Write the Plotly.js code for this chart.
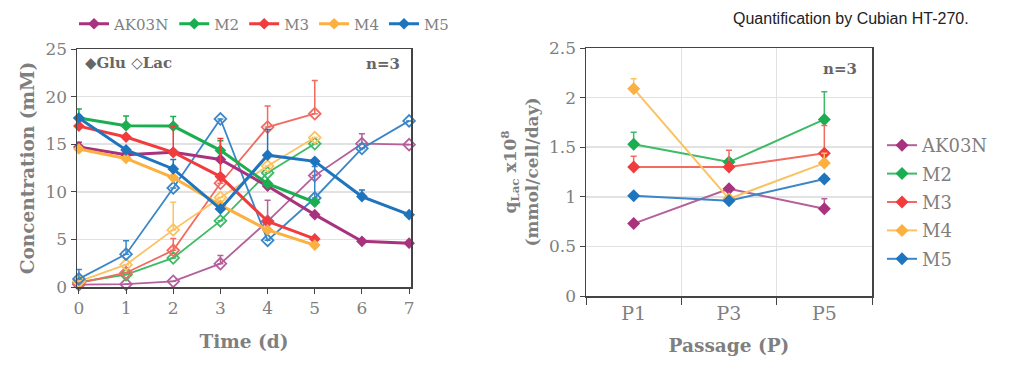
<!DOCTYPE html>
<html>
<head>
<meta charset="utf-8">
<script src="https://cdn.plot.ly/plotly-3.0.1.min.js"></script>
<style>html,body{margin:0;padding:0;background:#fff;}#chart{width:1024px;height:369px;}</style>
</head>
<body>
<div id="chart"></div>
<script>
// ---- data ----
const seriesNames = ["AK03N", "M2", "M3", "M4", "M5"];
const seriesColors = ["#A8327E", "#1AAE50", "#F03C3C", "#FBB040", "#1F74BE"];
const lacColors = ["#B4609A", "#3DBB66", "#F26A60", "#FCC262", "#3A86C8"];

const days = [0, 1, 2, 3, 4, 5, 6, 7];

const gluAK03N = [14.7, 13.9, 14.15, 13.4, 10.6, 7.6, 4.8, 4.6];
const gluM2 = [17.75, 16.95, 16.9, 14.35, 10.85, 8.9];
const gluM3 = [16.9, 15.75, 14.15, 11.6, 6.9, 5.05];
const gluM4 = [14.5, 13.5, 11.5, 8.6, 6.0, 4.4];
const gluM5 = [17.75, 14.4, 12.4, 8.2, 13.85, 13.2, 9.5, 7.6];

const gluErrAK03N = [0.5, 0, 0, 0, 0, 0, 0, 0];
const gluErrM2 = [0.95, 1.0, 1.0, 1.0, 0, 0];
const gluErrM3 = [0, 0, 2.7, 4.0, 0, 0];
const gluErrM4 = [0, 0, 0, 0, 0, 0];
const gluErrM5 = [0, 0, 1.0, 0, 2.7, 0, 0.7, 0];

const lacAK03N = [0.25, 0.3, 0.6, 2.45, 6.9, 11.7, 15.05, 14.95];
const lacM2 = [0.5, 1.3, 3.05, 6.95, 12.0, 15.05];
const lacM3 = [0.4, 1.5, 3.85, 10.9, 16.8, 18.2];
const lacM4 = [0.6, 2.35, 6.0, 9.4, 12.7, 15.7];
const lacM5 = [0.85, 3.45, 10.4, 17.65, 4.9, 9.35, 14.55, 17.45];

const lacErrAK03N = [0, 0, 0, 0.85, 2.2, 0, 1.05, 0];
const lacErrM2 = [0, 0, 0, 0, 0, 0];
const lacErrM3 = [0, 0, 1.25, 0, 2.2, 3.5];
const lacErrM4 = [0, 0, 2.9, 0, 0, 0];
const lacErrM5 = [1.0, 1.4, 0, 0, 0, 3.3, 0, 0];

const passages = ["P1", "P3", "P5"];
const qLacAK03N = [0.73, 1.08, 0.88];
const qLacM2 = [1.53, 1.35, 1.78];
const qLacM3 = [1.30, 1.30, 1.44];
const qLacM4 = [2.09, 0.98, 1.34];
const qLacM5 = [1.01, 0.96, 1.18];

const qErrAK03N = [0, 0, 0.1];
const qErrM2 = [0.12, 0.03, 0.28];
const qErrM3 = [0.11, 0.17, 0.28];
const qErrM4 = [0.1, 0, 0.1];
const qErrM5 = [0, 0, 0.03];

const yTicksLeft = [0, 5, 10, 15, 20, 25];
const yTicksRight = [0, 0.5, 1, 1.5, 2, 2.5];

// ---- build ----
const glu = [gluAK03N, gluM2, gluM3, gluM4, gluM5];
const gluErr = [gluErrAK03N, gluErrM2, gluErrM3, gluErrM4, gluErrM5];
const lac = [lacAK03N, lacM2, lacM3, lacM4, lacM5];
const lacErr = [lacErrAK03N, lacErrM2, lacErrM3, lacErrM4, lacErrM5];
const qLac = [qLacAK03N, qLacM2, qLacM3, qLacM4, qLacM5];
const qErr = [qErrAK03N, qErrM2, qErrM3, qErrM4, qErrM5];

const serif = "DejaVu Serif";
const gray = "#7f7f7f";
const H = 369, W = 1024;

const traces = [];
for (let i = 0; i < 5; i++) {
  traces.push({
    x: days.slice(0, lac[i].length), y: lac[i], type: "scatter", mode: "lines+markers",
    name: seriesNames[i], showlegend: false, xaxis: "x", yaxis: "y", cliponaxis: false,
    line: {color: lacColors[i], width: 1.8},
    marker: {symbol: "diamond-open", size: 9, color: lacColors[i], line: {width: 1.8}},
    error_y: {type: "data", symmetric: false, array: lacErr[i], arrayminus: lac[i].map(() => 0),
              color: lacColors[i], thickness: 1.5, width: 3}
  });
}
for (let i = 0; i < 5; i++) {
  traces.push({
    x: days.slice(0, glu[i].length), y: glu[i], type: "scatter", mode: "lines+markers",
    name: seriesNames[i], legend: "legend", xaxis: "x", yaxis: "y", cliponaxis: false,
    line: {color: seriesColors[i], width: 3},
    marker: {symbol: "diamond", size: 9, color: seriesColors[i]},
    error_y: {type: "data", symmetric: false, array: gluErr[i], arrayminus: glu[i].map(() => 0),
              color: seriesColors[i], thickness: 1.5, width: 3}
  });
}
for (let i = 0; i < 5; i++) {
  traces.push({
    x: passages, y: qLac[i], type: "scatter", mode: "lines+markers",
    name: seriesNames[i], legend: "legend2", legendgroup: "q" + i, xaxis: "x2", yaxis: "y2", cliponaxis: false,
    line: {color: lacColors[i], width: 2},
    marker: {symbol: "diamond", size: 10, color: seriesColors[i]},
    error_y: {type: "data", symmetric: false, array: qErr[i], arrayminus: qLac[i].map(() => 0),
              color: lacColors[i], thickness: 1.5, width: 3}
  });
}

const layout = {
  width: W, height: H,
  margin: {l: 0, r: 0, t: 0, b: 0},
  paper_bgcolor: "#fff", plot_bgcolor: "#fff",
  font: {family: serif, color: gray, size: 15},
  showlegend: true,
  xaxis: {
    domain: [77 / W, 411 / W], range: [-0.04, 7.04], anchor: "y",
    tickvals: days, ticktext: days.map(String),
    ticks: "outside", ticklen: 5, tickcolor: "#444",
    showline: true, mirror: true, linecolor: "#444", linewidth: 1.5,
    showgrid: false, zeroline: false,
    tickfont: {family: serif, size: 17, color: gray},
    title: {text: "<b>Time (d)</b>", font: {family: serif, size: 18.5, color: gray}, standoff: 18}
  },
  yaxis: {
    domain: [(H - 287) / H, (H - 49) / H], range: [0, 25], anchor: "x",
    tickvals: yTicksLeft, ticks: "outside", ticklen: 5, tickcolor: "#444",
    showline: true, mirror: true, linecolor: "#444", linewidth: 1.5,
    showgrid: true, gridcolor: "#e2e2e2", gridwidth: 1.5, zeroline: false,
    tickfont: {family: serif, size: 17, color: gray},
    title: {text: "<b>Concentration (mM)</b>", font: {family: serif, size: 18.5, color: gray}, standoff: 6}
  },
  xaxis2: {
    domain: [586 / W, 872 / W], range: [-0.5, 2.5], anchor: "y2", type: "category",
    tickson: "boundaries", ticks: "outside", ticklen: 7, tickcolor: "#444",
    showline: true, mirror: true, linecolor: "#444", linewidth: 1.5,
    showgrid: true, gridcolor: "#e2e2e2", gridwidth: 1.5, zeroline: false,
    tickfont: {family: serif, size: 19, color: gray},
    title: {text: "<b>Passage (P)</b>", font: {family: serif, size: 18.5, color: gray}, standoff: 16}
  },
  yaxis2: {
    domain: [(H - 296) / H, (H - 48) / H], range: [0, 2.5], anchor: "x2",
    tickvals: yTicksRight, ticks: "outside", ticklen: 5, tickcolor: "#444",
    showline: true, mirror: true, linecolor: "#444", linewidth: 1.5,
    showgrid: true, gridcolor: "#e2e2e2", gridwidth: 1.5, zeroline: false,
    tickfont: {family: serif, size: 17, color: gray},
    title: {text: "<b>q<sub>Lac</sub> x10<sup>8</sup><br>(mmol/cell/day)</b>", font: {family: serif, size: 17, color: gray}, standoff: 6}
  },
  legend: {
    orientation: "h", x: 74 / W, xanchor: "left", y: (H - 24) / H, yanchor: "middle",
    font: {family: serif, size: 15, color: gray}, bgcolor: "rgba(0,0,0,0)",
    itemwidth: 30, tracegroupgap: 0
  },
  legend2: {
    orientation: "v", x: 882 / W, xanchor: "left", y: (H - 127) / H, yanchor: "top",
    font: {family: serif, size: 18, color: gray}, bgcolor: "rgba(0,0,0,0)",
    itemwidth: 30, tracegroupgap: 2
  },
  annotations: [
    {xref: "paper", yref: "paper", x: 83 / W, y: (H - 63) / H, xanchor: "left", yanchor: "middle",
     text: "<b>◆Glu ◇Lac</b>", showarrow: false, font: {family: serif, size: 15, color: "#666"}},
    {xref: "paper", yref: "paper", x: 402 / W, y: (H - 64) / H, xanchor: "right", yanchor: "middle",
     text: "<b>n=3</b>", showarrow: false, font: {family: serif, size: 15, color: "#666"}},
    {xref: "paper", yref: "paper", x: 859 / W, y: (H - 69) / H, xanchor: "right", yanchor: "middle",
     text: "<b>n=3</b>", showarrow: false, font: {family: serif, size: 15, color: "#666"}},
    {xref: "paper", yref: "paper", x: 971 / W, y: (H - 18) / H, xanchor: "right", yanchor: "middle",
     text: "Quantification by Cubian HT-270.", showarrow: false,
     font: {family: "Liberation Sans, Arial, sans-serif", size: 16, color: "#222"}}
  ]
};

Plotly.newPlot("chart", traces, layout, {staticPlot: true, displayModeBar: false});
</script>
</body>
</html>
